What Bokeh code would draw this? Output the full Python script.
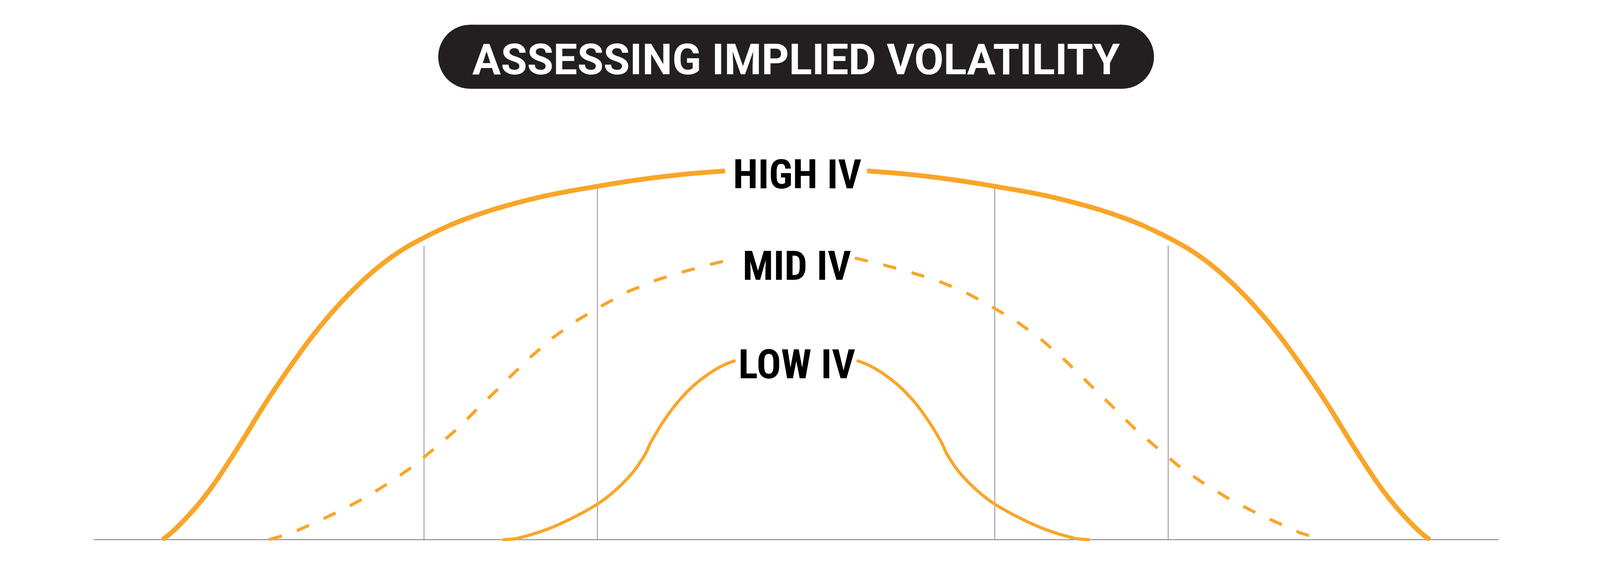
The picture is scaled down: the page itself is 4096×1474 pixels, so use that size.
import math
from bokeh.plotting import figure
from bokeh.models import Range1d
from bokeh.core.properties import value
from bokeh.embed import file_html
from bokeh.resources import INLINE

# ---------------- data (x: offset from the at-the-money centre, y: height above baseline) -------------
title = "ASSESSING IMPLIED VOLATILITY"
curve_labels = ["HIGH IV", "MID IV", "LOW IV"]

high_left_x = [-1652, -1630, -1600, -1560, -1514, -1450, -1387, -1323, -1259, -1195, -1132,
               -1068, -1004, -908, -833, -753, -639, -517, -409, -294, -185]
high_left_y = [0, 17, 46, 90, 150, 248, 350, 445, 533, 609, 673,
               727, 769, 817, 846, 871, 899, 921, 938, 952, 961]

mid_left_x = [-1374, -1316, -1246, -1183, -1119, -1055, -996, -940, -883, -833, -779,
              -745, -690, -633, -570, -502, -435, -363, -291, -217, -153]
mid_left_y = [0, 17, 48, 78, 112, 152, 193, 240, 289, 339, 391,
              425, 478, 527, 572, 612, 648, 677, 699, 719, 734]

low_left_x = [-765, -725, -649, -582, -516, -471, -426, -395, -377, -346, -310, -270, -225, -189, -158]
low_left_y = [0, 4, 27, 57, 94, 129, 175, 220, 257, 308, 357, 399, 434, 455, 467]

guide_x = [-970, -518, 518, 970]
guide_top = [766, 918, 918, 766]

baseline_x = [-1831, 1832]
label_x = [3, 2, 2]
label_cap_bottom = [923, 685, 428]
title_cap_bottom = 1220

# ---------------- layout constants -------------
S = 0.982
CX, BY = 2083.0, 1414.0          # reference pixel of x=0, y=0
W, H = 4080, 1458
ORANGE = "#F9A528"
GREY = "#8C8C8C"
DARK = "#231F20"
LABEL_PX = 104
TITLE_PX = 109
DESCENT = 0.271                  # font descent (em) that bokeh puts under the alphabetic line


def halves(xs, ys):
    """left half as read, right half is its mirror image (the chart is symmetric)"""
    left = list(zip(xs, ys))
    right = [(-x, y) for x, y in reversed(left)]
    return left, right


def smooth_segments(pts):
    """Catmull-Rom -> cubic bezier control points for drawing a smooth curve through pts."""
    segs = {k: [] for k in ("x0", "y0", "x1", "y1", "cx0", "cy0", "cx1", "cy1")}
    n = len(pts)
    for i in range(n - 1):
        p0 = pts[i - 1] if i > 0 else pts[i]
        p1 = pts[i]
        p2 = pts[i + 1]
        p3 = pts[i + 2] if i + 2 < n else pts[i + 1]
        segs["x0"].append(p1[0]); segs["y0"].append(p1[1])
        segs["x1"].append(p2[0]); segs["y1"].append(p2[1])
        segs["cx0"].append(p1[0] + (p2[0] - p0[0]) / 6.0)
        segs["cy0"].append(p1[1] + (p2[1] - p0[1]) / 6.0)
        segs["cx1"].append(p2[0] - (p3[0] - p1[0]) / 6.0)
        segs["cy1"].append(p2[1] - (p3[1] - p1[1]) / 6.0)
    return segs


x0 = 8 / S - CX
x1 = (W + 8) / S - CX
y_top = BY - 8 / S
y_bot = BY - (H + 8) / S

p = figure(width=W, height=H, output_backend="svg", toolbar_location=None,
           x_range=Range1d(x0, x1), y_range=Range1d(y_bot, y_top),
           min_border=0, min_border_left=0, min_border_right=0,
           min_border_top=0, min_border_bottom=0)
p.axis.visible = False
p.xgrid.visible = False
p.ygrid.visible = False
p.outline_line_color = None
p.background_fill_color = "white"
p.border_fill_color = "white"

# vertical guide lines and baseline
p.segment(x0=guide_x, y0=[0] * len(guide_x), x1=guide_x, y1=guide_top,
          line_color=GREY, line_width=2)
p.line(baseline_x, [0, 0], line_color=GREY, line_width=2.5)

# solid curves (high and low), drawn as smooth bezier pieces through the read points
for xs, ys, lw in ((high_left_x, high_left_y, 12.3), (low_left_x, low_left_y, 7.9)):
    for half in halves(xs, ys):
        p.bezier(**smooth_segments(half), line_color=ORANGE, line_width=lw)

# dashed mid curve
ml, mr = halves(mid_left_x, mid_left_y)
mx = [q[0] for q in ml] + [math.nan] + [q[0] for q in mr]
my = [q[1] for q in ml] + [math.nan] + [q[1] for q in mr]
p.line(mx, my, line_color=ORANGE, line_width=7.9, line_dash="34 41", line_join="round")

# curve labels
shift_l = DESCENT * LABEL_PX / S
p.text(x=label_x, y=[v + shift_l for v in label_cap_bottom], text=curve_labels,
       text_align="center", text_baseline="alphabetic", text_color="#000000",
       text_font_style="bold", text_font_size=f"{LABEL_PX}px",
       text_font=value("Roboto Condensed, Liberation Sans Narrow, Roboto"))

# title pill
pill_h = 167
pill_half = 933
p.quad(left=[-pill_half + pill_h / 2], right=[pill_half - pill_h / 2],
       bottom=[1175], top=[1175 + pill_h], fill_color=DARK, line_color=None)
p.ellipse(x=[-pill_half + pill_h / 2, pill_half - pill_h / 2], y=[1175 + pill_h / 2] * 2,
          width=pill_h, height=pill_h, fill_color=DARK, line_color=None)
shift_t = DESCENT * TITLE_PX / S
p.text(x=[0], y=[title_cap_bottom + shift_t], text=[title], text_align="center",
       text_baseline="alphabetic", text_color="white", text_font_style="bold",
       text_font_size=f"{TITLE_PX}px", text_font=value("Roboto"))

open("out.html", "w").write(file_html(p, INLINE))
